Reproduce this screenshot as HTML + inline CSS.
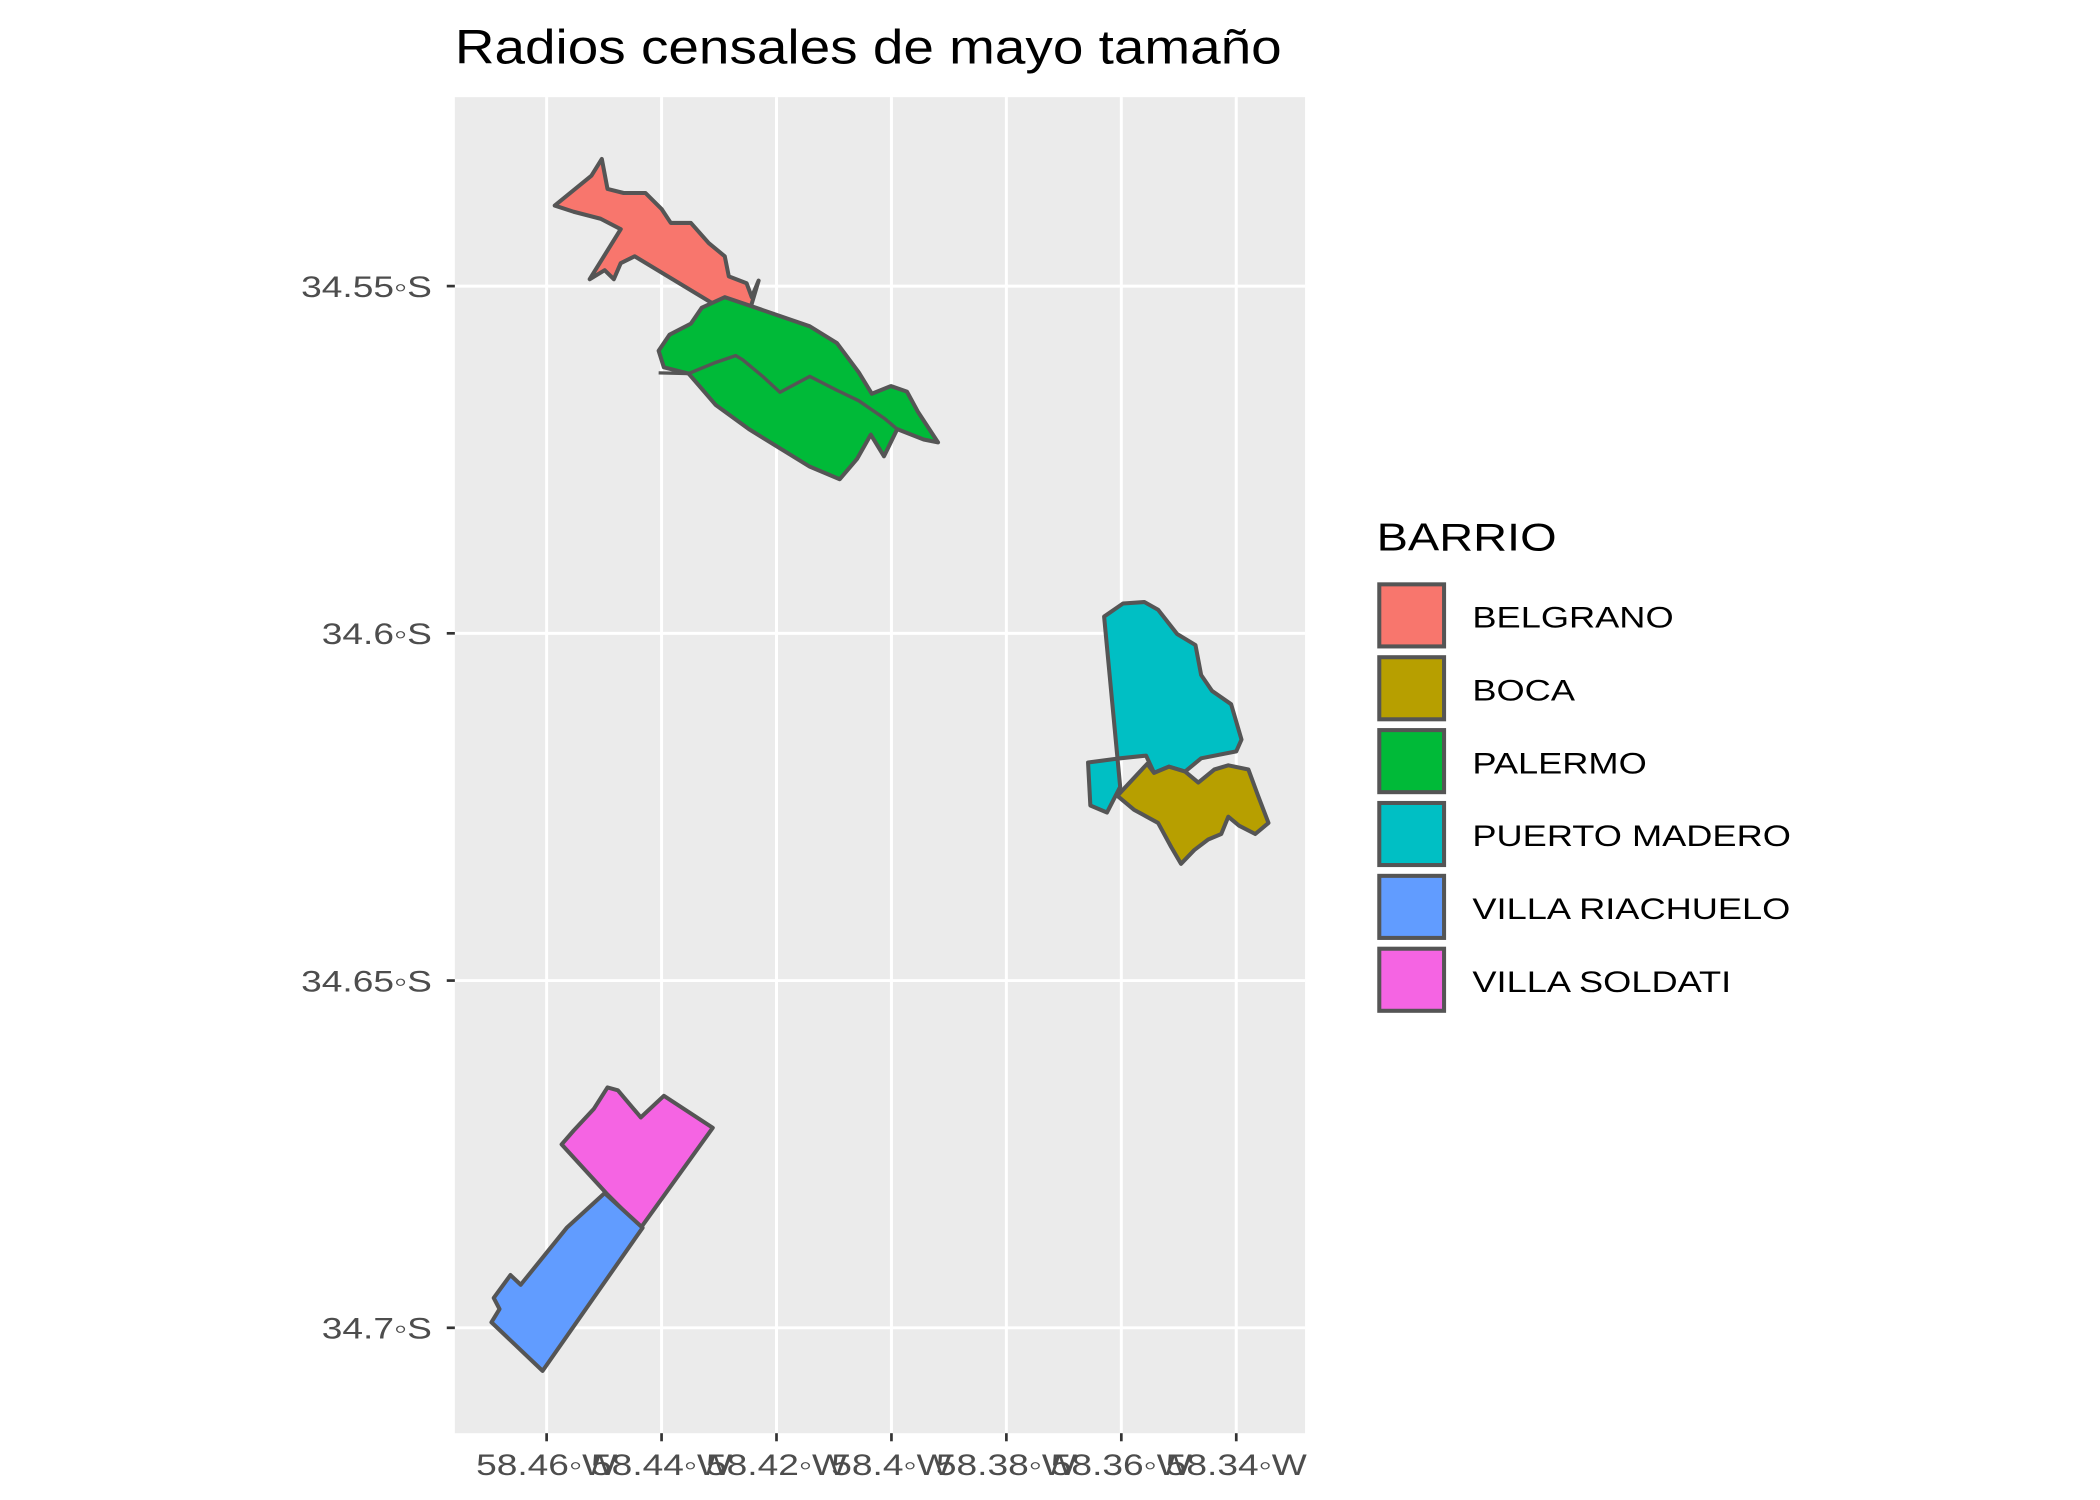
<!DOCTYPE html>
<html><head><meta charset="utf-8"><style>
html,body{margin:0;padding:0;background:#fff}
svg{display:block}
text{font-family:"Liberation Sans",sans-serif}
</style></head><body>
<svg id="chart" width="2100" height="1500" viewBox="0 0 1556 1111.5" xmlns="http://www.w3.org/2000/svg">
<rect width="1556" height="1112" fill="#fff"/>
<text class="wide" data-f="1.13" x="337" y="47" font-size="36" fill="#000">Radios censales de mayo tamaño</text>
<rect x="337" y="72" width="630" height="990" fill="#ebebeb"/>
<g id="grid"></g><g id="shapes"></g><g id="axes"></g><g id="legend"></g>
</svg>
<script>
const xTicks = [-58.46,-58.44,-58.42,-58.40,-58.38,-58.36,-58.34];
const xTickLabels = ["58.46◦W","58.44◦W","58.42◦W","58.4◦W","58.38◦W","58.36◦W","58.34◦W"];
const yTicks = [34.55,34.60,34.65,34.70];
const yTickLabels = ["34.55◦S","34.6◦S","34.65◦S","34.7◦S"];
const barrios = ["BELGRANO","BOCA","PALERMO","PUERTO MADERO","VILLA RIACHUELO","VILLA SOLDATI"];
const colors = ["#f8766d","#b79f00","#00ba38","#00bfc4","#619cff","#f564e3"];
const belgrano = [[-58.4586,34.5384],[-58.4522,34.5341],[-58.4504,34.5317],[-58.4494,34.5360],[-58.4466,34.5366],[-58.4428,34.5366],[-58.4400,34.5389],[-58.4384,34.5409],[-58.4349,34.5409],[-58.4318,34.5438],[-58.4290,34.5457],[-58.4283,34.5486],[-58.4252,34.5496],[-58.4243,34.5516],[-58.4231,34.5492],[-58.4248,34.5539],[-58.4311,34.5525],[-58.4447,34.5457],[-58.4471,34.5467],[-58.4483,34.5490],[-58.4499,34.5477],[-58.4525,34.5490],[-58.4471,34.5418],[-58.4506,34.5403],[-58.4553,34.5393]];
const palermo = [[-58.4353,34.5626],[-58.4396,34.5617],[-58.4405,34.5593],[-58.4386,34.5570],[-58.4349,34.5554],[-58.4330,34.5531],[-58.4290,34.5516],[-58.4236,34.5531],[-58.4142,34.5558],[-58.4095,34.5582],[-58.4057,34.5624],[-58.4034,34.5655],[-58.4001,34.5644],[-58.3973,34.5652],[-58.3954,34.5681],[-58.3919,34.5725],[-58.3944,34.5721],[-58.3990,34.5706],[-58.4013,34.5745],[-58.4036,34.5714],[-58.4060,34.5749],[-58.4090,34.5778],[-58.4142,34.5760],[-58.4248,34.5706],[-58.4306,34.5671]];
const palermoInner = [[-58.4405,34.5625],[-58.4353,34.5626],[-58.4306,34.5610],[-58.4271,34.5600],[-58.4259,34.5606],[-58.4224,34.5630],[-58.4194,34.5653],[-58.4142,34.5630],[-58.4095,34.5650],[-58.4057,34.5665],[-58.4013,34.5690],[-58.3990,34.5706]];
const puertoMadero = [[-58.3630,34.5976],[-58.3597,34.5957],[-58.3560,34.5955],[-58.3536,34.5966],[-58.3503,34.6001],[-58.3471,34.6017],[-58.3461,34.6060],[-58.3442,34.6083],[-58.3409,34.6102],[-58.3391,34.6153],[-58.3400,34.6170],[-58.3461,34.6180],[-58.3489,34.6199],[-58.3517,34.6192],[-58.3543,34.6201],[-58.3557,34.6176],[-58.3602,34.6180],[-58.3658,34.6186],[-58.3654,34.6248],[-58.3625,34.6258],[-58.3602,34.6221]];
const boca = [[-58.3607,34.6234],[-58.3555,34.6188],[-58.3543,34.6201],[-58.3517,34.6192],[-58.3489,34.6199],[-58.3466,34.6215],[-58.3438,34.6196],[-58.3414,34.6190],[-58.3379,34.6196],[-58.3362,34.6234],[-58.3344,34.6273],[-58.3367,34.6289],[-58.3395,34.6277],[-58.3414,34.6264],[-58.3426,34.6289],[-58.3449,34.6297],[-58.3473,34.6312],[-58.3496,34.6332],[-58.3513,34.6308],[-58.3536,34.6273],[-58.3578,34.6254]];
const soldati = [[-58.4574,34.6736],[-58.4553,34.6716],[-58.4518,34.6685],[-58.4494,34.6654],[-58.4476,34.6658],[-58.4436,34.6697],[-58.4396,34.6666],[-58.4311,34.6712],[-58.4436,34.6856],[-58.4494,34.6808]];
const riachuelo = [[-58.4696,34.6992],[-58.4682,34.6973],[-58.4692,34.6957],[-58.4663,34.6924],[-58.4645,34.6938],[-58.4565,34.6856],[-58.4499,34.6806],[-58.4433,34.6856],[-58.4607,34.7062]];

const NS="http://www.w3.org/2000/svg";
function xs(lon){return 405+(lon+58.46)/0.02*85.17;}
function ys(lat){return 212+(lat-34.55)/0.05*257.3;}
function mk(tag,attrs,parent){const e=document.createElementNS(NS,tag);for(const k in attrs)e.setAttribute(k,attrs[k]);parent.appendChild(e);return e;}
const grid=document.getElementById('grid'),shapes=document.getElementById('shapes'),axes=document.getElementById('axes'),legend=document.getElementById('legend');
xTicks.forEach((t,i)=>{
  const l=mk('line',{x1:xs(t),x2:xs(t),y1:72,y2:1062,stroke:'#fff','stroke-width':2.2},grid);
  
  
  const tk=mk('line',{x1:xs(t),x2:xs(t),y1:1062,y2:1068,stroke:'#333','stroke-width':2},axes);
  
  
  const tx=mk('text',{x:xs(t),y:1093,'font-size':22,fill:'#4d4d4d','text-anchor':'middle',class:'wide','data-f':1.25},axes);
  tx.textContent=xTickLabels[i];
  
  
});
yTicks.forEach((t,i)=>{
  const l=mk('line',{x1:337,x2:967,y1:ys(t),y2:ys(t),stroke:'#fff','stroke-width':2.2},grid);
  
  
  const tk=mk('line',{x1:331,x2:337,y1:ys(t),y2:ys(t),stroke:'#333','stroke-width':2},axes);
  
  
  const tx=mk('text',{x:320,y:ys(t)+8,'font-size':22,fill:'#4d4d4d','text-anchor':'end',class:'wide','data-f':1.25},axes);
  tx.textContent=yTickLabels[i];
  
  
});
const polys=[[belgrano,0],[palermo,2],[puertoMadero,3],[boca,1],[soldati,5],[riachuelo,4]];
polys.forEach(([pts,ci])=>{
  const p=mk('polygon',{points:pts.map(q=>xs(q[0]).toFixed(1)+','+ys(q[1]).toFixed(1)).join(' '),fill:colors[ci],stroke:'#555','stroke-width':3,'stroke-linejoin':'round'},shapes);
  
  
});
const inner=mk('polyline',{points:palermoInner.map(q=>xs(q[0]).toFixed(1)+','+ys(q[1]).toFixed(1)).join(' '),fill:'none',stroke:'#555','stroke-width':2.5,'stroke-linejoin':'round'},shapes);


const lt=mk('text',{x:1020,y:408,'font-size':29,fill:'#000',class:'wide','data-f':1.2},legend);
lt.textContent='BARRIO';


barrios.forEach((b,i)=>{
  const y0=433+i*54;
  const r=mk('rect',{x:1022,y:y0,width:48,height:46,fill:colors[i],stroke:'#555','stroke-width':3},legend);
  
  
  const t=mk('text',{x:1091,y:y0+32,'font-size':22,fill:'#000',class:'wide','data-f':1.22},legend);
  t.textContent=b;
  
  
});
document.querySelectorAll('text.wide').forEach(t=>{
  const w=t.getComputedTextLength()*parseFloat(t.getAttribute('data-f'));
  t.setAttribute('textLength',w.toFixed(1));
  t.setAttribute('lengthAdjust','spacingAndGlyphs');
});
</script>
</body></html>
